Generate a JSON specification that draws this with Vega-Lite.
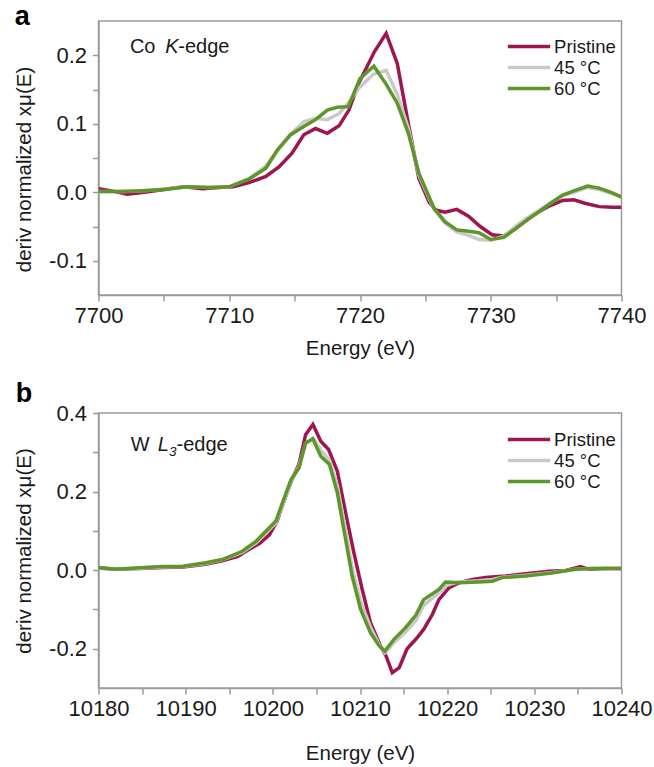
{
  "$schema": "https://vega.github.io/schema/vega-lite/v6.json",
  "background": "white",
  "padding": {"left": 13.5, "top": 2, "right": 0, "bottom": 0},
  "spacing": 18,
  "config": {
    "font": "Liberation Sans",
    "view": {"stroke": "#9a9a9a", "strokeWidth": 1.5},
    "axis": {
      "grid": false,
      "labelFlush": false,
      "labelOverlap": false,
      "domainColor": "#9a9a9a",
      "domainWidth": 1.5,
      "tickColor": "#9a9a9a",
      "tickWidth": 1.5,
      "tickSize": 6,
      "labelFont": "Liberation Sans",
      "labelFontSize": 22,
      "labelColor": "#1a1a1a",
      "titleFont": "Liberation Sans",
      "titleFontSize": 20.5,
      "titleFontWeight": "normal",
      "titleColor": "#1a1a1a"
    },
    "axisX": {"labelPadding": 4, "titlePadding": 13},
    "axisY": {"labelPadding": 6, "titlePadding": 14},
    "legend": {
      "orient": "none",
      "title": null,
      "symbolType": "M-2.2,0H2.2",
      "symbolSize": 370,
      "symbolStrokeWidth": 3.5,
      "labelFont": "Liberation Sans",
      "labelFontSize": 18.5,
      "labelColor": "#1a1a1a",
      "labelOffset": 13.6,
      "rowPadding": 0,
      "padding": 0
    }
  },
  "datasets": {
    "coK": [
      {"e": 7700.0, "v": 0.005, "s": "Pristine"},
      {"e": 7701.0, "v": 0.002, "s": "Pristine"},
      {"e": 7702.2, "v": -0.003, "s": "Pristine"},
      {"e": 7703.5, "v": 0.0, "s": "Pristine"},
      {"e": 7705.0, "v": 0.004, "s": "Pristine"},
      {"e": 7706.5, "v": 0.008, "s": "Pristine"},
      {"e": 7708.0, "v": 0.005, "s": "Pristine"},
      {"e": 7709.2, "v": 0.007, "s": "Pristine"},
      {"e": 7710.3, "v": 0.008, "s": "Pristine"},
      {"e": 7711.5, "v": 0.014, "s": "Pristine"},
      {"e": 7712.8, "v": 0.023, "s": "Pristine"},
      {"e": 7713.8, "v": 0.037, "s": "Pristine"},
      {"e": 7714.8, "v": 0.057, "s": "Pristine"},
      {"e": 7715.7, "v": 0.084, "s": "Pristine"},
      {"e": 7716.6, "v": 0.093, "s": "Pristine"},
      {"e": 7717.5, "v": 0.086, "s": "Pristine"},
      {"e": 7718.4, "v": 0.097, "s": "Pristine"},
      {"e": 7719.15, "v": 0.12, "s": "Pristine"},
      {"e": 7719.9, "v": 0.159, "s": "Pristine"},
      {"e": 7721.1, "v": 0.205, "s": "Pristine"},
      {"e": 7722.0, "v": 0.232, "s": "Pristine"},
      {"e": 7722.85, "v": 0.188, "s": "Pristine"},
      {"e": 7723.6, "v": 0.11, "s": "Pristine"},
      {"e": 7724.5, "v": 0.02, "s": "Pristine"},
      {"e": 7725.3, "v": -0.015, "s": "Pristine"},
      {"e": 7725.8, "v": -0.026, "s": "Pristine"},
      {"e": 7726.5, "v": -0.029, "s": "Pristine"},
      {"e": 7727.4, "v": -0.025, "s": "Pristine"},
      {"e": 7728.3, "v": -0.035, "s": "Pristine"},
      {"e": 7729.2, "v": -0.05, "s": "Pristine"},
      {"e": 7730.1, "v": -0.062, "s": "Pristine"},
      {"e": 7731.0, "v": -0.064, "s": "Pristine"},
      {"e": 7731.9, "v": -0.053, "s": "Pristine"},
      {"e": 7732.8, "v": -0.04, "s": "Pristine"},
      {"e": 7733.7, "v": -0.028, "s": "Pristine"},
      {"e": 7734.6, "v": -0.019, "s": "Pristine"},
      {"e": 7735.5, "v": -0.012, "s": "Pristine"},
      {"e": 7736.35, "v": -0.011, "s": "Pristine"},
      {"e": 7737.2, "v": -0.016, "s": "Pristine"},
      {"e": 7738.3, "v": -0.021, "s": "Pristine"},
      {"e": 7739.3, "v": -0.022, "s": "Pristine"},
      {"e": 7740.0, "v": -0.022, "s": "Pristine"},
      {"e": 7700.0, "v": 0.001, "s": "45 °C"},
      {"e": 7702.0, "v": 0.001, "s": "45 °C"},
      {"e": 7704.0, "v": 0.003, "s": "45 °C"},
      {"e": 7706.8, "v": 0.008, "s": "45 °C"},
      {"e": 7708.5, "v": 0.007, "s": "45 °C"},
      {"e": 7710.0, "v": 0.008, "s": "45 °C"},
      {"e": 7711.5, "v": 0.02, "s": "45 °C"},
      {"e": 7712.8, "v": 0.038, "s": "45 °C"},
      {"e": 7713.7, "v": 0.062, "s": "45 °C"},
      {"e": 7714.7, "v": 0.085, "s": "45 °C"},
      {"e": 7715.7, "v": 0.103, "s": "45 °C"},
      {"e": 7716.6, "v": 0.108, "s": "45 °C"},
      {"e": 7717.5, "v": 0.106, "s": "45 °C"},
      {"e": 7718.4, "v": 0.115, "s": "45 °C"},
      {"e": 7719.1, "v": 0.13, "s": "45 °C"},
      {"e": 7719.9, "v": 0.152, "s": "45 °C"},
      {"e": 7721.0, "v": 0.172, "s": "45 °C"},
      {"e": 7722.0, "v": 0.178, "s": "45 °C"},
      {"e": 7722.85, "v": 0.143, "s": "45 °C"},
      {"e": 7723.7, "v": 0.093, "s": "45 °C"},
      {"e": 7724.5, "v": 0.025, "s": "45 °C"},
      {"e": 7725.65, "v": -0.025, "s": "45 °C"},
      {"e": 7726.5, "v": -0.045, "s": "45 °C"},
      {"e": 7727.4, "v": -0.058, "s": "45 °C"},
      {"e": 7728.3, "v": -0.063, "s": "45 °C"},
      {"e": 7729.1, "v": -0.069, "s": "45 °C"},
      {"e": 7730.0, "v": -0.07, "s": "45 °C"},
      {"e": 7731.0, "v": -0.064, "s": "45 °C"},
      {"e": 7731.9, "v": -0.05, "s": "45 °C"},
      {"e": 7732.8, "v": -0.037, "s": "45 °C"},
      {"e": 7733.8, "v": -0.025, "s": "45 °C"},
      {"e": 7734.6, "v": -0.015, "s": "45 °C"},
      {"e": 7735.5, "v": -0.005, "s": "45 °C"},
      {"e": 7736.35, "v": 0.0, "s": "45 °C"},
      {"e": 7737.4, "v": 0.007, "s": "45 °C"},
      {"e": 7738.3, "v": 0.004, "s": "45 °C"},
      {"e": 7739.3, "v": -0.002, "s": "45 °C"},
      {"e": 7740.0, "v": -0.007, "s": "45 °C"},
      {"e": 7700.0, "v": 0.001, "s": "60 °C"},
      {"e": 7701.5, "v": 0.001, "s": "60 °C"},
      {"e": 7703.0, "v": 0.002, "s": "60 °C"},
      {"e": 7705.0, "v": 0.004, "s": "60 °C"},
      {"e": 7706.8, "v": 0.008, "s": "60 °C"},
      {"e": 7708.5, "v": 0.007, "s": "60 °C"},
      {"e": 7710.0, "v": 0.008, "s": "60 °C"},
      {"e": 7711.5, "v": 0.019, "s": "60 °C"},
      {"e": 7712.8, "v": 0.035, "s": "60 °C"},
      {"e": 7713.7, "v": 0.062, "s": "60 °C"},
      {"e": 7714.7, "v": 0.084, "s": "60 °C"},
      {"e": 7715.7, "v": 0.096, "s": "60 °C"},
      {"e": 7716.6, "v": 0.106, "s": "60 °C"},
      {"e": 7717.5, "v": 0.12, "s": "60 °C"},
      {"e": 7718.25, "v": 0.124, "s": "60 °C"},
      {"e": 7719.1, "v": 0.125, "s": "60 °C"},
      {"e": 7720.0, "v": 0.166, "s": "60 °C"},
      {"e": 7721.06, "v": 0.184, "s": "60 °C"},
      {"e": 7721.96, "v": 0.159, "s": "60 °C"},
      {"e": 7722.85, "v": 0.13, "s": "60 °C"},
      {"e": 7723.7, "v": 0.086, "s": "60 °C"},
      {"e": 7724.5, "v": 0.028, "s": "60 °C"},
      {"e": 7725.65, "v": -0.023, "s": "60 °C"},
      {"e": 7726.5, "v": -0.043, "s": "60 °C"},
      {"e": 7727.4, "v": -0.055, "s": "60 °C"},
      {"e": 7728.3, "v": -0.057, "s": "60 °C"},
      {"e": 7729.1, "v": -0.059, "s": "60 °C"},
      {"e": 7730.0, "v": -0.069, "s": "60 °C"},
      {"e": 7731.0, "v": -0.066, "s": "60 °C"},
      {"e": 7731.9, "v": -0.053, "s": "60 °C"},
      {"e": 7732.8, "v": -0.04, "s": "60 °C"},
      {"e": 7733.8, "v": -0.027, "s": "60 °C"},
      {"e": 7734.6, "v": -0.016, "s": "60 °C"},
      {"e": 7735.5, "v": -0.004, "s": "60 °C"},
      {"e": 7736.35, "v": 0.002, "s": "60 °C"},
      {"e": 7737.4, "v": 0.009, "s": "60 °C"},
      {"e": 7738.3, "v": 0.006, "s": "60 °C"},
      {"e": 7739.3, "v": -0.001, "s": "60 °C"},
      {"e": 7740.0, "v": -0.007, "s": "60 °C"}
    ],
    "wL3": [
      {"e": 10180.0, "v": 0.006, "s": "Pristine"},
      {"e": 10182.0, "v": 0.002, "s": "Pristine"},
      {"e": 10184.7, "v": 0.004, "s": "Pristine"},
      {"e": 10187.4, "v": 0.007, "s": "Pristine"},
      {"e": 10189.7, "v": 0.008, "s": "Pristine"},
      {"e": 10192.3, "v": 0.015, "s": "Pristine"},
      {"e": 10194.2, "v": 0.024, "s": "Pristine"},
      {"e": 10196.0, "v": 0.035, "s": "Pristine"},
      {"e": 10197.2, "v": 0.052, "s": "Pristine"},
      {"e": 10198.5, "v": 0.068, "s": "Pristine"},
      {"e": 10199.6, "v": 0.09, "s": "Pristine"},
      {"e": 10200.5, "v": 0.125, "s": "Pristine"},
      {"e": 10201.1, "v": 0.165, "s": "Pristine"},
      {"e": 10202.1, "v": 0.225, "s": "Pristine"},
      {"e": 10203.0, "v": 0.27, "s": "Pristine"},
      {"e": 10203.76, "v": 0.345, "s": "Pristine"},
      {"e": 10204.6, "v": 0.371, "s": "Pristine"},
      {"e": 10205.5, "v": 0.328, "s": "Pristine"},
      {"e": 10206.4, "v": 0.307, "s": "Pristine"},
      {"e": 10207.4, "v": 0.252, "s": "Pristine"},
      {"e": 10208.35, "v": 0.146, "s": "Pristine"},
      {"e": 10209.3, "v": 0.044, "s": "Pristine"},
      {"e": 10210.25, "v": -0.049, "s": "Pristine"},
      {"e": 10211.2, "v": -0.134, "s": "Pristine"},
      {"e": 10212.35, "v": -0.193, "s": "Pristine"},
      {"e": 10213.0, "v": -0.219, "s": "Pristine"},
      {"e": 10213.7, "v": -0.261, "s": "Pristine"},
      {"e": 10214.5, "v": -0.248, "s": "Pristine"},
      {"e": 10215.4, "v": -0.2, "s": "Pristine"},
      {"e": 10216.4, "v": -0.176, "s": "Pristine"},
      {"e": 10217.3, "v": -0.151, "s": "Pristine"},
      {"e": 10218.3, "v": -0.113, "s": "Pristine"},
      {"e": 10219.05, "v": -0.075, "s": "Pristine"},
      {"e": 10220.2, "v": -0.045, "s": "Pristine"},
      {"e": 10221.35, "v": -0.032, "s": "Pristine"},
      {"e": 10222.9, "v": -0.024, "s": "Pristine"},
      {"e": 10224.4, "v": -0.019, "s": "Pristine"},
      {"e": 10226.7, "v": -0.015, "s": "Pristine"},
      {"e": 10229.0, "v": -0.009, "s": "Pristine"},
      {"e": 10231.7, "v": -0.003, "s": "Pristine"},
      {"e": 10233.6, "v": -0.001, "s": "Pristine"},
      {"e": 10235.3, "v": 0.009, "s": "Pristine"},
      {"e": 10236.25, "v": 0.002, "s": "Pristine"},
      {"e": 10238.0, "v": 0.004, "s": "Pristine"},
      {"e": 10240.0, "v": 0.004, "s": "Pristine"},
      {"e": 10180.0, "v": 0.005, "s": "45 °C"},
      {"e": 10182.0, "v": 0.002, "s": "45 °C"},
      {"e": 10184.7, "v": 0.005, "s": "45 °C"},
      {"e": 10187.4, "v": 0.008, "s": "45 °C"},
      {"e": 10189.7, "v": 0.009, "s": "45 °C"},
      {"e": 10192.3, "v": 0.017, "s": "45 °C"},
      {"e": 10194.2, "v": 0.026, "s": "45 °C"},
      {"e": 10196.5, "v": 0.045, "s": "45 °C"},
      {"e": 10198.1, "v": 0.07, "s": "45 °C"},
      {"e": 10200.35, "v": 0.12, "s": "45 °C"},
      {"e": 10201.1, "v": 0.165, "s": "45 °C"},
      {"e": 10202.1, "v": 0.225, "s": "45 °C"},
      {"e": 10203.0, "v": 0.265, "s": "45 °C"},
      {"e": 10203.76, "v": 0.322, "s": "45 °C"},
      {"e": 10204.6, "v": 0.336, "s": "45 °C"},
      {"e": 10205.5, "v": 0.305, "s": "45 °C"},
      {"e": 10206.5, "v": 0.28, "s": "45 °C"},
      {"e": 10207.4, "v": 0.215, "s": "45 °C"},
      {"e": 10208.35, "v": 0.1, "s": "45 °C"},
      {"e": 10209.1, "v": 0.005, "s": "45 °C"},
      {"e": 10210.07, "v": -0.08, "s": "45 °C"},
      {"e": 10211.2, "v": -0.145, "s": "45 °C"},
      {"e": 10212.2, "v": -0.19, "s": "45 °C"},
      {"e": 10212.85, "v": -0.21, "s": "45 °C"},
      {"e": 10213.9, "v": -0.185, "s": "45 °C"},
      {"e": 10215.2, "v": -0.158, "s": "45 °C"},
      {"e": 10216.4, "v": -0.128, "s": "45 °C"},
      {"e": 10217.3, "v": -0.09, "s": "45 °C"},
      {"e": 10219.05, "v": -0.058, "s": "45 °C"},
      {"e": 10220.0, "v": -0.038, "s": "45 °C"},
      {"e": 10221.35, "v": -0.03, "s": "45 °C"},
      {"e": 10223.6, "v": -0.027, "s": "45 °C"},
      {"e": 10225.2, "v": -0.024, "s": "45 °C"},
      {"e": 10226.3, "v": -0.018, "s": "45 °C"},
      {"e": 10229.0, "v": -0.013, "s": "45 °C"},
      {"e": 10232.0, "v": -0.006, "s": "45 °C"},
      {"e": 10234.7, "v": 0.002, "s": "45 °C"},
      {"e": 10236.6, "v": 0.004, "s": "45 °C"},
      {"e": 10240.0, "v": 0.004, "s": "45 °C"},
      {"e": 10180.0, "v": 0.006, "s": "60 °C"},
      {"e": 10182.0, "v": 0.002, "s": "60 °C"},
      {"e": 10184.7, "v": 0.006, "s": "60 °C"},
      {"e": 10187.4, "v": 0.009, "s": "60 °C"},
      {"e": 10189.7, "v": 0.01, "s": "60 °C"},
      {"e": 10192.3, "v": 0.019, "s": "60 °C"},
      {"e": 10194.2, "v": 0.027, "s": "60 °C"},
      {"e": 10196.5, "v": 0.048, "s": "60 °C"},
      {"e": 10198.1, "v": 0.074, "s": "60 °C"},
      {"e": 10200.35, "v": 0.125, "s": "60 °C"},
      {"e": 10201.1, "v": 0.171, "s": "60 °C"},
      {"e": 10202.1, "v": 0.231, "s": "60 °C"},
      {"e": 10203.0, "v": 0.26, "s": "60 °C"},
      {"e": 10203.76, "v": 0.324, "s": "60 °C"},
      {"e": 10204.6, "v": 0.334, "s": "60 °C"},
      {"e": 10205.5, "v": 0.29, "s": "60 °C"},
      {"e": 10206.5, "v": 0.269, "s": "60 °C"},
      {"e": 10207.4, "v": 0.197, "s": "60 °C"},
      {"e": 10208.35, "v": 0.078, "s": "60 °C"},
      {"e": 10209.1, "v": -0.015, "s": "60 °C"},
      {"e": 10210.07, "v": -0.1, "s": "60 °C"},
      {"e": 10211.2, "v": -0.159, "s": "60 °C"},
      {"e": 10212.2, "v": -0.193, "s": "60 °C"},
      {"e": 10212.85, "v": -0.206, "s": "60 °C"},
      {"e": 10213.9, "v": -0.176, "s": "60 °C"},
      {"e": 10215.2, "v": -0.147, "s": "60 °C"},
      {"e": 10216.4, "v": -0.115, "s": "60 °C"},
      {"e": 10217.3, "v": -0.075, "s": "60 °C"},
      {"e": 10219.05, "v": -0.049, "s": "60 °C"},
      {"e": 10219.8, "v": -0.03, "s": "60 °C"},
      {"e": 10221.35, "v": -0.032, "s": "60 °C"},
      {"e": 10223.6, "v": -0.03, "s": "60 °C"},
      {"e": 10225.2, "v": -0.028, "s": "60 °C"},
      {"e": 10226.3, "v": -0.019, "s": "60 °C"},
      {"e": 10229.0, "v": -0.015, "s": "60 °C"},
      {"e": 10232.0, "v": -0.007, "s": "60 °C"},
      {"e": 10234.7, "v": 0.002, "s": "60 °C"},
      {"e": 10236.6, "v": 0.004, "s": "60 °C"},
      {"e": 10240.0, "v": 0.004, "s": "60 °C"}
    ]
  },
  "resolve": {"scale": {"color": "independent"}, "legend": {"color": "independent"}},
  "vconcat": [
    {
      "width": 523,
      "height": 274,
      "layer": [
        {
          "data": {"name": "coK"},
          "mark": {"type": "line", "strokeWidth": 3.5, "clip": true},
          "encoding": {
            "x": {"field": "e", "type": "quantitative", "title": "Energy (eV)",
              "scale": {"domain": [7700, 7740], "nice": false, "zero": false},
              "axis": {"values": [7700, 7705, 7710, 7715, 7720, 7725, 7730, 7735, 7740], "format": "d", "labelExpr": "datum.value % 10 == 0 ? datum.label : ''", "titlePadding": 12}},
            "y": {"field": "v", "type": "quantitative", "title": "deriv normalized xμ(E)",
              "scale": {"domain": [-0.15, 0.25], "nice": false, "zero": false},
              "axis": {"values": [-0.1, -0.05, 0, 0.05, 0.1, 0.15, 0.2], "labelExpr": "abs(datum.value*10 - round(datum.value*10)) < 0.001 ? (datum.value < -0.001 ? '-' + format(-datum.value, '.1f') : format(abs(datum.value), '.1f')) : ''", "titleY": 148}},
            "color": {"field": "s", "type": "nominal", "sort": ["Pristine", "45 °C", "60 °C"],
              "scale": {"domain": ["Pristine", "45 °C", "60 °C"], "range": ["#9E1650", "#C9C9C9", "#5D9629"]},
              "legend": {"legendX": 419, "legendY": 14}}
          }
        },
        {
          "data": {"values": [{}]},
          "mark": {"type": "text", "align": "left", "baseline": "alphabetic", "fontSize": 27, "fontWeight": "bold", "font": "Liberation Sans", "color": "#000000", "text": "a"},
          "encoding": {"x": {"datum": 7693.6, "type": "quantitative"}, "y": {"datum": 0.2442, "type": "quantitative"}}
        },
        {
          "data": {"values": [{}]},
          "mark": {"type": "text", "align": "left", "baseline": "alphabetic", "fontSize": 20, "font": "Liberation Sans", "color": "#1a1a1a", "text": "Co"},
          "encoding": {"x": {"datum": 7702.4, "type": "quantitative"}, "y": {"datum": 0.2026, "type": "quantitative"}}
        },
        {
          "data": {"values": [{}]},
          "mark": {"type": "text", "align": "left", "baseline": "alphabetic", "fontSize": 20, "font": "Liberation Sans", "fontStyle": "italic", "color": "#1a1a1a", "text": "K"},
          "encoding": {"x": {"datum": 7705.1, "type": "quantitative"}, "y": {"datum": 0.2026, "type": "quantitative"}}
        },
        {
          "data": {"values": [{}]},
          "mark": {"type": "text", "align": "left", "baseline": "alphabetic", "fontSize": 20, "font": "Liberation Sans", "color": "#1a1a1a", "text": "-edge"},
          "encoding": {"x": {"datum": 7706.1, "type": "quantitative"}, "y": {"datum": 0.2026, "type": "quantitative"}}
        }
      ]
    },
    {
      "width": 523,
      "height": 275,
      "layer": [
        {
          "data": {"name": "wL3"},
          "mark": {"type": "line", "strokeWidth": 3.5, "clip": true},
          "encoding": {
            "x": {"field": "e", "type": "quantitative", "title": "Energy (eV)",
              "scale": {"domain": [10180, 10240], "nice": false, "zero": false},
              "axis": {"values": [10180, 10185, 10190, 10195, 10200, 10205, 10210, 10215, 10220, 10225, 10230, 10235, 10240], "format": "d", "labelExpr": "datum.value % 10 == 0 ? datum.label : ''", "titlePadding": 24}},
            "y": {"field": "v", "type": "quantitative", "title": "deriv normalized xμ(E)",
              "scale": {"domain": [-0.3, 0.4], "nice": false, "zero": false},
              "axis": {"values": [-0.2, -0.1, 0, 0.1, 0.2, 0.3, 0.4], "labelExpr": "abs(round(datum.value*10)) % 2 == 0 ? (datum.value < -0.001 ? '-' + format(-datum.value, '.1f') : format(abs(datum.value), '.1f')) : ''"}},
            "color": {"field": "s", "type": "nominal", "sort": ["Pristine", "45 °C", "60 °C"],
              "scale": {"domain": ["Pristine", "45 °C", "60 °C"], "range": ["#9E1650", "#C9C9C9", "#5D9629"]},
              "legend": {"legendX": 419, "legendY": 15}}
          }
        },
        {
          "data": {"values": [{}]},
          "mark": {"type": "text", "align": "left", "baseline": "alphabetic", "fontSize": 27, "fontWeight": "bold", "font": "Liberation Sans", "color": "#000000", "text": "b"},
          "encoding": {"x": {"datum": 10170.5, "type": "quantitative"}, "y": {"datum": 0.429, "type": "quantitative"}}
        },
        {
          "data": {"values": [{}]},
          "mark": {"type": "text", "align": "left", "baseline": "alphabetic", "fontSize": 20, "font": "Liberation Sans", "color": "#1a1a1a", "text": "W"},
          "encoding": {"x": {"datum": 10183.7, "type": "quantitative"}, "y": {"datum": 0.303, "type": "quantitative"}}
        },
        {
          "data": {"values": [{}]},
          "mark": {"type": "text", "align": "left", "baseline": "alphabetic", "fontSize": 20, "font": "Liberation Sans", "fontStyle": "italic", "color": "#1a1a1a", "text": "L"},
          "encoding": {"x": {"datum": 10186.8, "type": "quantitative"}, "y": {"datum": 0.303, "type": "quantitative"}}
        },
        {
          "data": {"values": [{}]},
          "mark": {"type": "text", "align": "left", "baseline": "alphabetic", "fontSize": 13.5, "font": "Liberation Sans", "fontStyle": "italic", "color": "#1a1a1a", "text": "3"},
          "encoding": {"x": {"datum": 10188.1, "type": "quantitative"}, "y": {"datum": 0.29, "type": "quantitative"}}
        },
        {
          "data": {"values": [{}]},
          "mark": {"type": "text", "align": "left", "baseline": "alphabetic", "fontSize": 20, "font": "Liberation Sans", "color": "#1a1a1a", "text": "-edge"},
          "encoding": {"x": {"datum": 10188.95, "type": "quantitative"}, "y": {"datum": 0.303, "type": "quantitative"}}
        }
      ]
    }
  ]
}
